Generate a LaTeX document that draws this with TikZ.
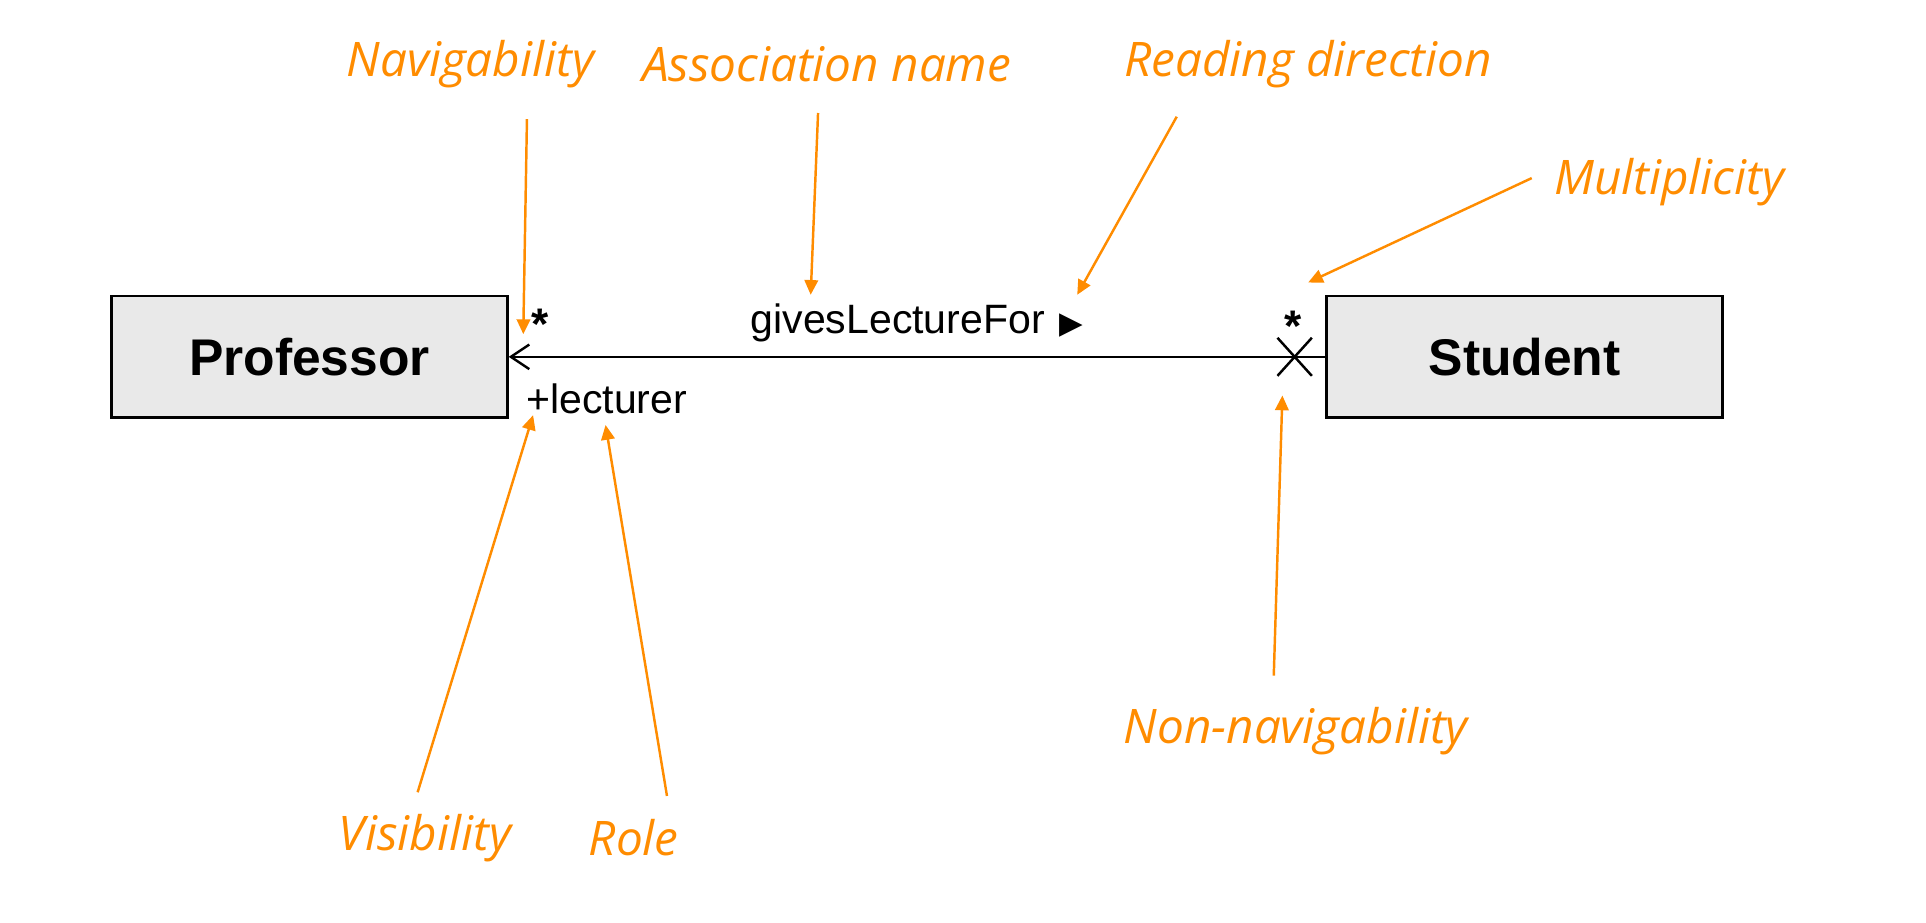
\documentclass[tikz,border=0pt]{standalone}
\usepackage{fontspec}
\setmainfont{Liberation Sans}
\newfontfamily\notefont{Open Sans}
\newfontfamily\symfont{DejaVu Sans}
\usetikzlibrary{arrows.meta,positioning}
\definecolor{noteorange}{RGB}{255,140,0}
\definecolor{boxgray}{RGB}{233,233,233}
\tikzset{
	classbox/.style={draw, line width=1.1pt, fill=boxgray, minimum width=161pt, minimum height=49.5pt, font=\fontsize{21}{21}\selectfont\bfseries},
	endlabel/.style={inner sep=0pt, font=\fontsize{16.7}{16.7}\selectfont},
	multlabel/.style={inner sep=0pt, font=\fontsize{18}{18}\selectfont\bfseries},
	note/.style={inner sep=0pt, text=noteorange, font=\notefont\itshape\fontsize{19.4}{19.4}\selectfont},
	pointer/.style={draw=noteorange, line width=1pt, -{Triangle[length=6pt,width=5.5pt]}},
}

\begin{document}
\begin{tikzpicture}[x=0.5pt, y=0.5pt]
	\useasboundingbox (0,0) rectangle (1568,751);
	
	\node[classbox] (prof) at (252,460.5) {Professor};
	\node[classbox, right=332.5pt of prof] (stud) {Student};
	
	\draw[line width=1pt, -{Straight Barb[length=7.5pt,width=10pt]}] (stud) -- (prof);
	
	\coordinate (cross) at (1054,460.5);
	\draw[line width=1pt] ([shift={(-14,-15.5)}]cross) -- ([shift={(14,15.5)}]cross)
		([shift={(-14,15.5)}]cross) -- ([shift={(14,-15.5)}]cross);
	
	\node[multlabel] (profmult) at (440,487) {*};
	\node[multlabel] (studmult) at (1053,485) {*};
	\node[endlabel, anchor=west] (role) at (428,426) {+lecturer};
	\node[endlabel] (assocname) at (746.5,488) {givesLectureFor\hspace{6pt}{\symfont\fontsize{12.5}{12.5}\selectfont ▶}};
	
	\node[note] (navnote) at (383,699) {Navigability};
	\node[note] (assocnote) at (673,699) {Association name};
	\node[note] (readnote) at (1065,699) {Reading direction};
	\node[note] (multnote) at (1359,603) {Multiplicity};
	\node[note] (nonnavnote) at (1055,156) {Non-navigability};
	\node[note] (visnote) at (346,69) {Visibility};
	\node[note] (rolenote) at (516,69) {Role};
	
	\coordinate (navtail) at (429,654);
	\coordinate (navtip) at (426,479);
	\coordinate (assoctail) at (666,659);
	\coordinate (assoctip) at (660,511);
	\coordinate (readtail) at (958,656);
	\coordinate (readtip) at (877,511);
	\coordinate (multtail) at (1247,606);
	\coordinate (multtip) at (1065,521);
	\coordinate (nonnavtail) at (1037,201);
	\coordinate (nonnavtip) at (1044,429);
	\coordinate (vistail) at (340,106);
	\coordinate (vistip) at (434,413);
	\coordinate (roletail) at (543,103);
	\coordinate (roletip) at (493,405);
	
	\draw[pointer] (navtail) -- (navtip);
	\draw[pointer] (assoctail) -- (assoctip);
	\draw[pointer] (readtail) -- (readtip);
	\draw[pointer] (multtail) -- (multtip);
	\draw[pointer] (nonnavtail) -- (nonnavtip);
	\draw[pointer] (vistail) -- (vistip);
	\draw[pointer] (roletail) -- (roletip);
\end{tikzpicture}
\end{document}
